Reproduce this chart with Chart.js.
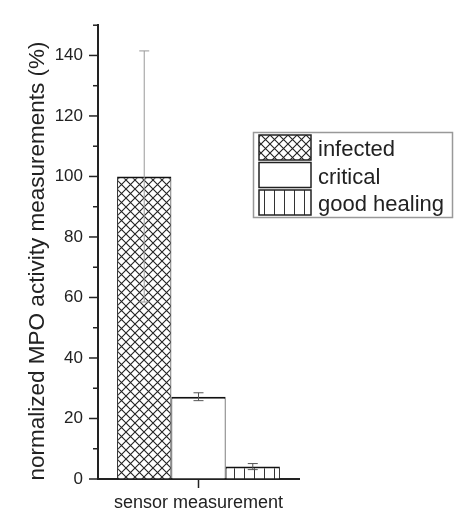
<!DOCTYPE html>
<html>
<head>
<meta charset="utf-8">
<script src="https://cdn.jsdelivr.net/npm/chart.js@4"></script>
<style>
  html, body { margin: 0; padding: 0; background: #fff; }
  #wrap { width: 454px; height: 508px; position: relative; }
</style>
</head>
<body>
<div id="wrap"><canvas id="mpoChart"></canvas></div>
<script>
// values
const categories = ["sensor measurement"];
const groups = ["infected", "critical", "good healing"];
const means = [100, 27.2, 4.1];
const errors = [41.5, 1.3, 1.0];
const yTicks = [0, 20, 40, 60, 80, 100, 120, 140];
const yTitle = "normalized MPO activity measurements (%)";

const FONT = "'Liberation Sans', Arial, sans-serif";

// hatch patterns
const crossHatch = () => {
  let c = document.createElement("canvas");
  c.width = 9;
  c.height = 9;
  let g = c.getContext("2d");
  g.fillStyle = "#fff";
  g.fillRect(0, 0, 9, 9);
  g.strokeStyle = "#222";
  g.lineWidth = 1.1;
  g.beginPath();
  g.moveTo(-1, -1); g.lineTo(10, 10);
  g.moveTo(10, -1); g.lineTo(-1, 10);
  g.stroke();
  return g.createPattern(c, "repeat");
};

const vLines = () => {
  let c = document.createElement("canvas");
  c.width = 10;
  c.height = 10;
  let g = c.getContext("2d");
  g.fillStyle = "#fff";
  g.fillRect(0, 0, 10, 10);
  g.strokeStyle = "#333";
  g.lineWidth = 1;
  g.beginPath();
  g.moveTo(4.5, 0); g.lineTo(4.5, 10);
  g.stroke();
  return g.createPattern(c, "repeat");
};

const fills = [crossHatch(), "#ffffff", vLines()];
const errColors = ["#999999", "#555555", "#555555"];

// error bars, tick marks, y title and legend
const extras = {
  id: "extras",
  afterDatasetsDraw(chart) {
    const ctx = chart.ctx;
    const y = chart.scales.y;
    ctx.save();
    chart.data.datasets.forEach((ds, i) => {
      const bar = chart.getDatasetMeta(i).data[0];
      const top = y.getPixelForValue(means[i] + errors[i]);
      const bot = y.getPixelForValue(means[i] - errors[i]);
      ctx.strokeStyle = errColors[i];
      ctx.lineWidth = 1;
      ctx.beginPath();
      ctx.moveTo(bar.x, top); ctx.lineTo(bar.x, bot);
      ctx.moveTo(bar.x - 5, top); ctx.lineTo(bar.x + 5, top);
      ctx.moveTo(bar.x - 5, bot); ctx.lineTo(bar.x + 5, bot);
      ctx.stroke();
    });

    // y ticks, major every 20, minor every 10
    ctx.strokeStyle = "#222";
    ctx.lineWidth = 1.5;
    const left = chart.chartArea.left;
    for (let v = 0; v <= 150; v += 10) {
      const py = y.getPixelForValue(v);
      const len = yTicks.includes(v) ? 9 : 5;
      ctx.beginPath();
      ctx.moveTo(left - len, py); ctx.lineTo(left, py);
      ctx.stroke();
    }
    // x tick at category centre
    const cx = chart.scales.x.getPixelForValue(0);
    const bottom = chart.chartArea.bottom;
    ctx.beginPath();
    ctx.moveTo(cx, bottom); ctx.lineTo(cx, bottom + 9);
    ctx.stroke();
    ctx.restore();
  },
  afterDraw(chart) {
    const ctx = chart.ctx;
    ctx.save();

    // y axis title
    ctx.translate(44, 261);
    ctx.rotate(-Math.PI / 2);
    ctx.font = "22.5px " + FONT;
    ctx.fillStyle = "#222";
    ctx.textAlign = "center";
    ctx.textBaseline = "alphabetic";
    ctx.fillText(yTitle, 0, 0);
    ctx.setTransform(1, 0, 0, 1, 0, 0);

    // legend box
    ctx.textAlign = "left";
    ctx.strokeStyle = "#999";
    ctx.lineWidth = 1.5;
    ctx.strokeRect(253.5, 132.5, 199, 85);
    ctx.font = "22px " + FONT;
    groups.forEach((name, i) => {
      const top = 135 + i * 27.5;
      ctx.fillStyle = fills[i];
      ctx.fillRect(259, top, 52, 25);
      ctx.strokeStyle = "#222";
      ctx.lineWidth = 1.5;
      ctx.strokeRect(259, top, 52, 25);
      ctx.fillStyle = "#222";
      ctx.fillText(name, 318, top + 21);
    });
    ctx.restore();
  },
};

const chart = new Chart(document.getElementById("mpoChart"), {
  type: "bar",
  data: {
    labels: categories,
    datasets: groups.map((g, i) => ({
      label: g,
      data: [means[i]],
      backgroundColor: fills[i],
      borderColor: "#111",
      borderWidth: { top: 2, left: 1, right: 1, bottom: 0 },
      borderSkipped: false,
      categoryPercentage: 0.81,
      barPercentage: 1.0,
    })),
  },
  options: {
    animation: false,
    responsive: true,
    maintainAspectRatio: false,
    layout: { padding: { top: 18, right: 155, left: 0, bottom: 0 } },
    plugins: {
      legend: { display: false },
      tooltip: { enabled: false },
    },
    scales: {
      x: {
        grid: { display: true, drawOnChartArea: false, drawTicks: false },
        border: { color: "#222", width: 2 },
        ticks: {
          color: "#222",
          padding: 13,
          font: { size: 18, family: FONT },
        },
        afterFit: (s) => { s.height = 29; },
      },
      y: {
        min: 0,
        max: 150,
        grid: { display: true, drawOnChartArea: false, drawTicks: false },
        border: { color: "#222", width: 2 },
        ticks: {
          stepSize: 10,
          padding: 15,
          color: "#222",
          font: { size: 17, family: FONT },
          callback: (v) => (yTicks.includes(v) ? v : ""),
        },
        afterFit: (s) => { s.width = 98; },
      },
    },
  },
  plugins: [extras],
});
</script>
</body>
</html>
